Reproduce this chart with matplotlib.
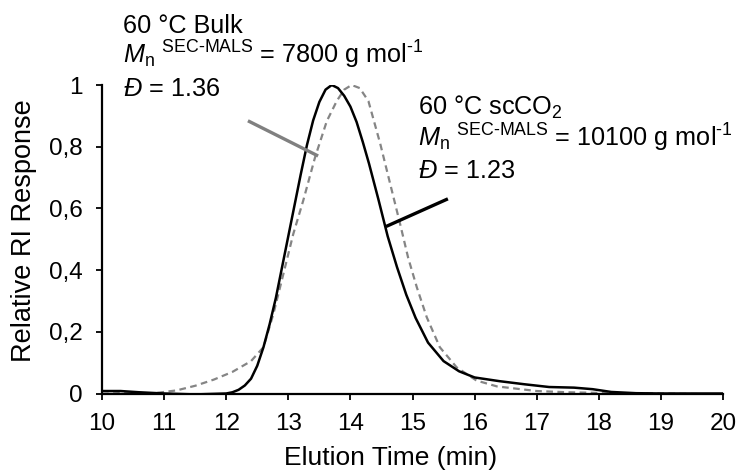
import matplotlib
matplotlib.use("Agg")
import matplotlib.pyplot as plt
import numpy as np

plt.rcParams['font.family'] = ['Liberation Sans', 'DejaVu Sans']
plt.rcParams['mathtext.fontset'] = 'custom'
plt.rcParams['mathtext.rm'] = 'Liberation Sans'
plt.rcParams['mathtext.it'] = 'Liberation Sans:italic'
plt.rcParams['mathtext.bf'] = 'Liberation Sans:bold'

# ---- data ----
solid_x = [10.0, 10.3, 10.6, 11.0, 11.5, 12.0, 12.1, 12.2, 12.3, 12.4, 12.5, 12.6, 12.7,
           12.8, 12.9, 13.0, 13.1, 13.2, 13.3, 13.4, 13.5, 13.6, 13.7, 13.8, 13.9, 14.0,
           14.1, 14.2, 14.3, 14.45, 14.6, 14.75, 14.9, 15.05, 15.25, 15.5, 15.75, 16.0,
           16.4, 16.8, 17.2, 17.6, 17.9, 18.2, 18.6, 19.0, 20.0]
solid_y = [0.008, 0.008, 0.004, 0.0, -0.003, 0.0, 0.004, 0.012, 0.026, 0.048, 0.09, 0.15,
           0.225, 0.31, 0.41, 0.51, 0.61, 0.71, 0.805, 0.885, 0.945, 0.985, 1.0, 0.99,
           0.965, 0.93, 0.88, 0.815, 0.745, 0.63, 0.51, 0.41, 0.32, 0.245, 0.165, 0.105,
           0.072, 0.052, 0.04, 0.03, 0.021, 0.019, 0.014, 0.005, 0.001, 0.0, 0.0]

dash_x = [10.0, 10.4, 10.8, 11.2, 11.5, 11.8, 12.1, 12.4, 12.6, 12.76, 12.92, 13.08, 13.24,
          13.43, 13.62, 13.78, 13.9, 14.02, 14.15, 14.29, 14.48, 14.64, 14.8, 14.93, 15.07,
          15.23, 15.44, 15.71, 16.03, 16.36, 16.7, 17.0, 17.5, 18.0, 19.0, 20.0]
dash_y = [0.008, 0.004, 0.0, 0.01, 0.025, 0.045, 0.07, 0.105, 0.15, 0.258, 0.387, 0.517, 0.625,
          0.765, 0.883, 0.948, 0.985, 1.0, 0.99, 0.948, 0.81, 0.68, 0.55, 0.44, 0.344,
          0.247, 0.15, 0.085, 0.042, 0.023, 0.015, 0.008, 0.004, 0.002, 0.0, -0.003]

x_ticks = [10, 11, 12, 13, 14, 15, 16, 17, 18, 19, 20]
y_ticks = [0, 0.2, 0.4, 0.6, 0.8, 1.0]
y_tick_labels = ['0', '0,2', '0,4', '0,6', '0,8', '1']

bulk_leader_x = [12.35, 13.48]
bulk_leader_y = [0.884, 0.770]
sc_leader_x = [14.57, 15.57]
sc_leader_y = [0.541, 0.631]

W, H = 738, 470
fig = plt.figure(figsize=(W / 100, H / 100), dpi=100)
ax = fig.add_axes([102 / W, 1 - 393.5 / H, (723 - 102) / W, (393.5 - 85) / H])

ax.plot(dash_x, dash_y, color='#858585', lw=1.6, ls=(0, (3.0, 2.0)), zorder=3)
ax.plot(solid_x, solid_y, color='black', lw=1.8, zorder=4)
ax.plot(bulk_leader_x, bulk_leader_y, color='#808080', lw=2.4, solid_capstyle='butt', zorder=5)
ax.plot(sc_leader_x, sc_leader_y, color='black', lw=2.4, solid_capstyle='butt', zorder=5)

ax.set_xlim(10, 20)
ax.set_ylim(0, 1)
ax.set_xticks(x_ticks)
ax.set_xticklabels([str(t) for t in x_ticks])
ax.set_yticks(y_ticks)
ax.set_yticklabels(y_tick_labels)
for s in ['top', 'right']:
    ax.spines[s].set_visible(False)
for s in ['left', 'bottom']:
    ax.spines[s].set_linewidth(1.6)
    ax.spines[s].set_zorder(6)
ax.tick_params(axis='both', direction='out', length=4, width=1.3, labelsize=17.5, colors='black')
ax.tick_params(axis='x', pad=10)
ax.tick_params(axis='y', pad=10)

fs = 18.2
def ftext(px, py, s, **kw):
    fig.text(px / W, 1 - py / H, s, fontsize=fs, ha='left', va='baseline', **kw)

# axis titles
fig.text(391 / W, 1 - 465 / H, 'Elution Time (min)', fontsize=19, ha='center', va='baseline')
fig.text(24 / W, 1 - 231 / H, 'Relative RI Response', fontsize=19.5, ha='center',
         va='center', rotation=90)

ftext(123, 33, '60 °C Bulk')
ftext(123, 63.5, r'$M_{\mathrm{n}}$ $^{\text{SEC-MALS}}$ = 7800 g mol$^{\text{-1}}$')
ftext(123, 95.5, r'$Đ$ = 1.36')

ftext(418, 115, r'60 °C scCO$_{\mathrm{2}}$')
ftext(418, 146.5, r'$M_{\mathrm{n}}$ $^{\text{SEC-MALS}}$ = 10100 g mol$^{\text{-1}}$')
ftext(418, 177.5, r'$Đ$ = 1.23')

fig.savefig('out.png', dpi=100)
